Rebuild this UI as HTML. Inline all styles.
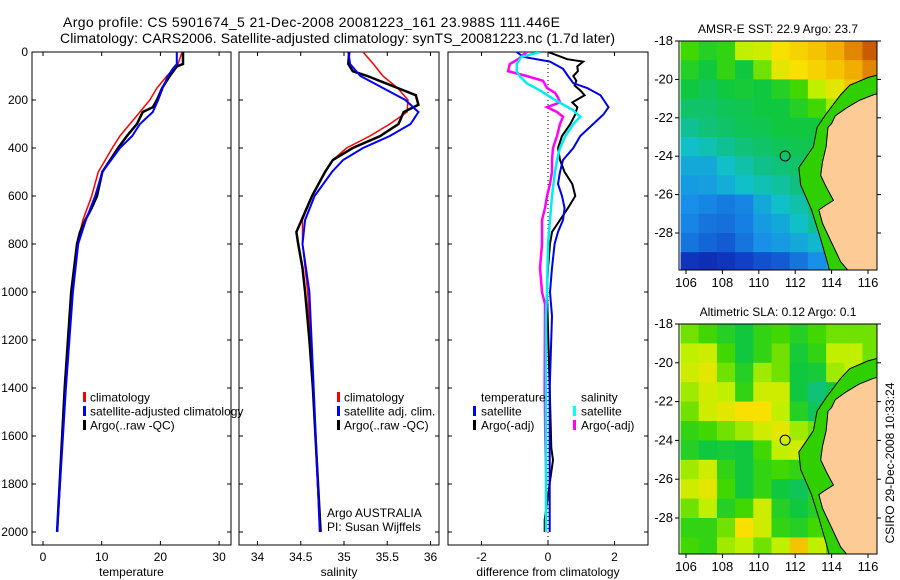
<!DOCTYPE html>
<html><head><meta charset="utf-8"><style>
html,body{margin:0;padding:0;background:#fff;}
svg{display:block;font-family:"Liberation Sans",sans-serif;}
</style></head><body>
<svg id="fig" width="900" height="580" viewBox="0 0 900 580" xmlns="http://www.w3.org/2000/svg">
<defs>
<clipPath id="c1"><rect x="32" y="52" width="199" height="493"/></clipPath>
<clipPath id="c2"><rect x="239" y="52" width="200" height="493"/></clipPath>
<clipPath id="c3"><rect x="448" y="52" width="200" height="493"/></clipPath>
<clipPath id="m1"><rect x="679" y="41" width="198" height="229"/></clipPath>
<clipPath id="m2"><rect x="679" y="324" width="198" height="230"/></clipPath>
</defs>
<text x="63" y="27" font-size="14" textLength="497">Argo profile: CS 5901674_5 21-Dec-2008 20081223_161 23.988S 111.446E</text>
<text x="60" y="43" font-size="14" textLength="555">Climatology: CARS2006. Satellite-adjusted climatology: synTS_20081223.nc (1.7d later)</text>
<g id="root"></g>
<text transform="translate(894,463) rotate(-90)" font-size="12" text-anchor="middle">CSIRO 29-Dec-2008 10:33:24</text>
</svg>
<script>
// ---- profile data ----
const tempClimDepth=[0,50,100,150,200,250,300,350,400,500,600,700,800,900,1000,1400,2000];
const tempClim=[23.7,23.0,21.1,19.4,18.2,16.5,14.8,13.1,11.8,9.4,8.3,6.8,5.8,5.3,4.9,3.7,2.4];
const tempArgoDepth=[0,50,60,100,150,200,230,250,300,350,400,500,600,650,700,750,800,900,1000,1400,2000];
const tempArgo=[23.85,23.85,22.8,21.6,20.3,19.4,18.7,17.0,16.0,14.3,12.8,10.1,9.2,8.3,7.2,6.3,5.8,5.3,4.8,3.7,2.4];
const tempSatDepth=[0,50,70,100,150,200,250,300,350,400,500,600,700,800,1000,1400,2000];
const tempSat=[22.8,22.8,22.1,21.3,20.4,19.6,18.7,16.5,15.2,13.1,10.1,8.9,7.3,6.0,5.1,3.9,2.4];

const salClimDepth=[0,50,100,150,200,250,300,350,400,450,500,600,700,800,1000,1400,2000];
const salClim=[35.22,35.34,35.45,35.62,35.74,35.73,35.53,35.30,35.03,34.87,34.78,34.63,34.52,34.52,34.58,34.64,34.72];
const salArgoDepth=[0,50,80,100,150,180,220,250,300,350,400,450,500,600,700,750,800,900,1000,1200,1400,2000];
const salArgo=[35.06,35.05,35.10,35.27,35.62,35.83,35.86,35.69,35.63,35.42,35.10,34.87,34.78,34.63,34.51,34.45,34.47,34.52,34.55,34.60,34.64,34.73];
const salSatDepth=[0,50,100,150,200,250,300,350,400,450,500,600,700,800,1000,1400,2000];
const salSat=[35.05,35.07,35.19,35.45,35.71,35.86,35.77,35.53,35.22,34.99,34.86,34.66,34.55,34.52,34.60,34.65,34.72];

const dTsDepth=[0,20,40,70,100,130,150,180,230,260,300,350,400,450,500,550,600,650,700,750,800,900,1000,1100,1400,1800,2000];
const dTsat=[-0.94,-0.75,0.06,0.45,0.6,0.76,1.18,1.58,1.82,1.67,1.36,0.97,0.76,0.45,0.36,0.3,0.42,0.5,0.45,0.3,0.2,0.12,0.06,0.12,0.05,0.05,0.05];
const dTaDepth=[0,30,40,60,80,100,120,140,160,180,210,230,260,300,350,400,450,500,550,600,650,700,750,800,900,1000,1400,1650,1700,1750,1900,1950,2000];
const dTargo=[0,0.58,1.06,0.88,0.9,0.76,0.85,0.8,0.97,1.1,0.73,0.88,0.82,0.67,0.42,0.3,0.36,0.5,0.73,0.82,0.6,0.36,0.12,0.06,0.0,-0.03,0.05,0.1,0.15,0.1,-0.05,-0.1,-0.1];
const dSsDepth=[0,20,50,80,100,130,160,200,240,270,300,350,400,450,500,600,700,800,1000,1100,1400,2000];
const dSsat=[-0.24,-0.8,-0.94,-0.94,-0.85,-0.64,-0.24,0.21,0.73,0.97,0.76,0.52,0.36,0.27,0.21,0.12,0.06,0.0,-0.03,-0.06,-0.06,-0.06];
const dSaDepth=[0,30,50,80,100,120,150,170,190,210,230,250,270,300,350,400,450,500,550,600,650,700,800,900,1000,1050,1400,1600,1800];
const dSargo=[-0.64,-0.9,-1.15,-1.2,-0.64,-0.15,-0.03,0.21,0.3,0.36,-0.03,0.27,0.45,0.36,0.27,0.15,0.12,0.12,0.06,-0.03,-0.09,-0.18,-0.18,-0.24,-0.18,-0.09,-0.1,-0.08,-0.05];

const depthTicks=[0,200,400,600,800,1000,1200,1400,1600,1800,2000];
const tempTicks=[0,10,20,30];
const salTicks=[34,34.5,35,35.5,36];
const salTickLabels=["34","34.5","35","35.5","36"];
const diffTicks=[-2,0,2];

// ---- map data ----
const sstGrid=[
[0.62,0.58,0.60,0.70,0.72,0.78,0.80,0.82,0.85,0.90,0.95,0.95],
[0.58,0.55,0.60,0.55,0.65,0.75,0.78,0.80,0.82,0.85,0.90,0.92],
[0.55,0.52,0.55,0.56,0.55,0.58,0.62,0.70,0.75,0.82,0.85,0.90],
[0.50,0.50,0.52,0.53,0.55,0.55,0.58,0.62,0.68,0.72,0.72,0.72],
[0.45,0.48,0.50,0.52,0.53,0.55,0.55,0.55,0.62,0.62,0.62,0.62],
[0.40,0.42,0.45,0.48,0.50,0.52,0.53,0.53,0.55,0.55,0.55,0.55],
[0.35,0.35,0.40,0.43,0.46,0.48,0.50,0.50,0.55,0.55,0.55,0.55],
[0.32,0.33,0.36,0.40,0.42,0.44,0.47,0.50,0.55,0.55,0.55,0.55],
[0.30,0.28,0.26,0.28,0.35,0.40,0.43,0.48,0.50,0.50,0.50,0.50],
[0.28,0.25,0.24,0.27,0.32,0.35,0.40,0.45,0.45,0.45,0.45,0.45],
[0.25,0.22,0.20,0.25,0.30,0.32,0.35,0.38,0.40,0.40,0.40,0.40],
[0.12,0.10,0.12,0.15,0.18,0.20,0.25,0.30,0.35,0.35,0.35,0.35]];
const slaGrid=[
[0.65,0.62,0.58,0.55,0.60,0.62,0.58,0.62,0.65,0.65,0.65,0.65],
[0.70,0.72,0.62,0.55,0.60,0.65,0.56,0.60,0.70,0.70,0.65,0.65],
[0.72,0.75,0.65,0.58,0.68,0.65,0.55,0.56,0.68,0.70,0.62,0.60],
[0.68,0.72,0.70,0.60,0.72,0.72,0.55,0.48,0.55,0.62,0.60,0.60],
[0.65,0.72,0.75,0.78,0.78,0.70,0.58,0.52,0.58,0.60,0.60,0.60],
[0.60,0.62,0.65,0.68,0.72,0.75,0.68,0.65,0.60,0.60,0.60,0.60],
[0.58,0.55,0.56,0.55,0.62,0.70,0.72,0.65,0.58,0.58,0.58,0.58],
[0.68,0.72,0.60,0.55,0.60,0.62,0.60,0.55,0.55,0.55,0.55,0.55],
[0.72,0.75,0.62,0.55,0.60,0.55,0.52,0.58,0.60,0.60,0.60,0.60],
[0.65,0.70,0.58,0.62,0.72,0.58,0.55,0.58,0.60,0.60,0.60,0.60],
[0.60,0.60,0.65,0.78,0.72,0.60,0.58,0.62,0.60,0.60,0.60,0.60],
[0.62,0.60,0.68,0.70,0.65,0.70,0.82,0.70,0.60,0.60,0.60,0.60]];
const coastLon=[117.2,116.3,115.5,114.8,114.2,114.0,113.8,113.7,113.5,113.4,113.7,114.1,113.6,113.3,113.5,114.0,114.5,114.95];
const coastLat=[-20.6,-20.8,-21.1,-21.5,-21.9,-22.3,-22.5,-23.5,-24.3,-25.0,-25.6,-26.3,-26.6,-26.8,-27.5,-28.5,-29.5,-30.0];
const isoLon=[117.2,116.0,115.0,114.5,113.7,113.2,113.0,112.2,112.3,112.9,113.3,113.7,113.9];
const isoLat=[-19.6,-19.9,-20.3,-20.8,-21.8,-22.5,-23.5,-24.6,-25.5,-26.8,-28.0,-29.3,-30.0];
const floatLon=111.446, floatLat=-23.988;
const lonTicks=[106,108,110,112,114,116];
const latTicks=[-18,-20,-22,-24,-26,-28];

const NS="http://www.w3.org/2000/svg";
const root=document.getElementById('root');
function el(tag,attrs,parent){const e=document.createElementNS(NS,tag);for(const k in attrs)e.setAttribute(k,attrs[k]);(parent||root).appendChild(e);return e;}
function txt(x,y,s,size,anchor,parent){const t=el('text',{x:x,y:y,'font-size':size,'text-anchor':anchor||'start'},parent);t.textContent=s;return t;}

const yD=d=>52+0.24*d;
const xT=t=>43+5.87*t;
const xS=s=>344+86.5*(s-35);
const xDf=v=>548+33.25*v;

function panel(name,x0,x1,xs,ticks,labels,xlabel,clip){
  const g=el('g',{});
  
  
  const r=el('rect',{x:x0,y:52,width:x1-x0,height:493,fill:'none',stroke:'#000','stroke-width':1},g);
  
  
  ticks.forEach((t,i)=>{const x=xs(t);
    el('line',{x1:x,x2:x,y1:52,y2:56,stroke:'#000'},g);
    el('line',{x1:x,x2:x,y1:545,y2:541,stroke:'#000'},g);
    const l=txt(x,561,labels[i],12,'middle',g);
    
    
  });
  depthTicks.forEach(d=>{const y=yD(d);
    el('line',{x1:x0,x2:x0+4,y1:y,y2:y,stroke:'#000'},g);
    el('line',{x1:x1,x2:x1-4,y1:y,y2:y,stroke:'#000'},g);
  });
  const xl=txt((x0+x1)/2,576,xlabel,12,'middle',g);
  
  
  return el('g',{'clip-path':'url(#'+clip+')'},g);
}
function line(g,depths,vals,xs,color,w,name){
  const pts=depths.map((d,i)=>xs(vals[i]).toFixed(1)+','+yD(d).toFixed(1)).join(' ');
  const p=el('polyline',{points:pts,fill:'none',stroke:color,'stroke-width':w,'stroke-linejoin':'miter'},g);
  
  
}
depthTicks.forEach(d=>{const t=txt(28,yD(d)+4,String(d),12,'end');
  
  });

const g1=panel('temperature-panel',32,231,xT,tempTicks,tempTicks.map(String),'temperature','c1');
line(g1,tempClimDepth,tempClim,xT,'#ff0000',1.5,'temp-climatology-line');
line(g1,tempArgoDepth,tempArgo,xT,'#000000',2.5,'temp-argo-line');
line(g1,tempSatDepth,tempSat,xT,'#0000ff',2,'temp-satellite-line');

const g2=panel('salinity-panel',239,439,xS,salTicks,salTickLabels,'salinity','c2');
line(g2,salClimDepth,salClim,xS,'#ff0000',1.5,'sal-climatology-line');
line(g2,salArgoDepth,salArgo,xS,'#000000',2.5,'sal-argo-line');
line(g2,salSatDepth,salSat,xS,'#0000ff',2,'sal-satellite-line');

const g3=panel('difference-panel',448,648,xDf,diffTicks,diffTicks.map(String),'difference from climatology','c3');
const zl=el('line',{x1:548,x2:548,y1:52,y2:545,stroke:'#000','stroke-dasharray':'1,3'},g3);


line(g3,dTaDepth,dTargo,xDf,'#000000',2,'diff-temp-argo-line');
line(g3,dTsDepth,dTsat,xDf,'#0000ee',2,'diff-temp-satellite-line');
line(g3,dSaDepth,dSargo,xDf,'#ff00ff',2.5,'diff-sal-argo-line');
line(g3,dSsDepth,dSsat,xDf,'#00eeee',2.5,'diff-sal-satellite-line');

function legend(items,mx,tx,y0,name){
  const g=el('g',{});
  
  
  items.forEach((it,i)=>{const y=y0+i*14;
    if(it[0])el('rect',{x:mx,y:y-5,width:3,height:10,fill:it[0]},g);
    const t=txt(tx,y+4.5,it[1],12,'start',g);
    
    
  });
}
legend([['#ff0000','climatology'],['#0000ff','satellite-adjusted climatology'],['#000','Argo(..raw -QC)']],83,90,397,'temperature-legend');
legend([['#ff0000','climatology'],['#0000ff','satellite adj. clim.'],['#000','Argo(..raw -QC)']],337,344,397,'salinity-legend');
legend([[null,'temperature'],['#0000ff','satellite'],['#000','Argo(-adj)']],473,481,397,'diff-temp-legend');
legend([[null,'salinity'],['#00ffff','satellite'],['#ff00ff','Argo(-adj)']],573,581,397,'diff-sal-legend');
const a1=txt(327,517,'Argo AUSTRALIA',12);
const a2=txt(327,531,'PI: Susan Wijffels',12);

// ---- maps ----
const cmStops=[[0,[10,10,144]],[0.15,[16,64,200]],[0.3,[24,144,232]],[0.4,[16,192,200]],[0.47,[16,192,128]],[0.55,[16,200,64]],[0.62,[64,216,0]],[0.7,[192,240,0]],[0.78,[248,224,0]],[0.87,[240,160,0]],[1,[176,48,0]]];
function cmap(v){for(let i=1;i<cmStops.length;i++){if(v<=cmStops[i][0]){const a=cmStops[i-1],b=cmStops[i],f=(v-a[0])/(b[0]-a[0]);
  return 'rgb('+a[1].map((c,k)=>Math.round(c+f*(b[1][k]-c))).join(',')+')';}}return 'rgb(176,48,0)';}
const lonX=l=>686+18.2*(l-106);
function drawMap(name,grid,top,scale,clip,title){
  const latY=la=>top+scale*(-18-la);
  const g=el('g',{});
  
  
  const tt=txt(778,top-8,title,12,'middle',g);
  
  
  const c=el('g',{'clip-path':'url(#'+clip+')'},g);
  grid.forEach((row,r)=>row.forEach((v,k)=>{
    const cell=el('rect',{x:lonX(105.7+k).toFixed(1),y:latY(-18+(r===0?1:0)-r).toFixed(1),width:18.8,height:(scale*(r===0?2:1)+0.6).toFixed(1),fill:cmap(v)},c);
    
    
  }));
  const shelfPts=isoLon.map((l,i)=>lonX(l)+','+latY(isoLat[i]));
  for(let i=coastLon.length-1;i>=0;i--)shelfPts.push(lonX(coastLon[i])+','+latY(coastLat[i]));
  const sh=el('polygon',{points:shelfPts.join(' '),fill:'#30d000'},c);
  
  
  const landPts=coastLon.map((l,i)=>lonX(l)+','+latY(coastLat[i]));
  landPts.push(lonX(114.95)+','+latY(-30.5));
  landPts.push(lonX(117.5)+','+latY(-30.5));
  landPts.push(lonX(117.5)+','+latY(-20.6));
  const land=el('polygon',{points:landPts.join(' '),fill:'#fccb96',stroke:'#000','stroke-width':1},c);
  
  
  const iso=el('polyline',{points:isoLon.map((l,i)=>lonX(l)+','+latY(isoLat[i])).join(' '),fill:'none',stroke:'#000','stroke-width':1},c);
  
  
  const fc=el('circle',{cx:lonX(floatLon),cy:latY(floatLat),r:5,fill:'none',stroke:'#000','stroke-width':1},c);
  
  
  const h=(clip==='m1')?229:230;
  el('rect',{x:679,y:top,width:198,height:h,fill:'none',stroke:'#000'},g);
  lonTicks.forEach(l=>{const x=lonX(l);
    el('line',{x1:x,x2:x,y1:top+h,y2:top+h+4,stroke:'#000'},g);
    const t=txt(x,top+h+17,String(l),13,'middle',g);
    
    });
  latTicks.forEach(la=>{const y=latY(la);
    el('line',{x1:675,x2:679,y1:y,y2:y,stroke:'#000'},g);
    el('line',{x1:877,x2:881,y1:y,y2:y,stroke:'#000'},g);
    const t=txt(673,y+4,String(la),13,'end',g);
    
    });
}
drawMap('sst-map',sstGrid,41,19.2,'m1','AMSR-E SST: 22.9 Argo: 23.7');
drawMap('sla-map',slaGrid,324,19.4,'m2','Altimetric SLA: 0.12 Argo: 0.1');
</script>
</body></html>
